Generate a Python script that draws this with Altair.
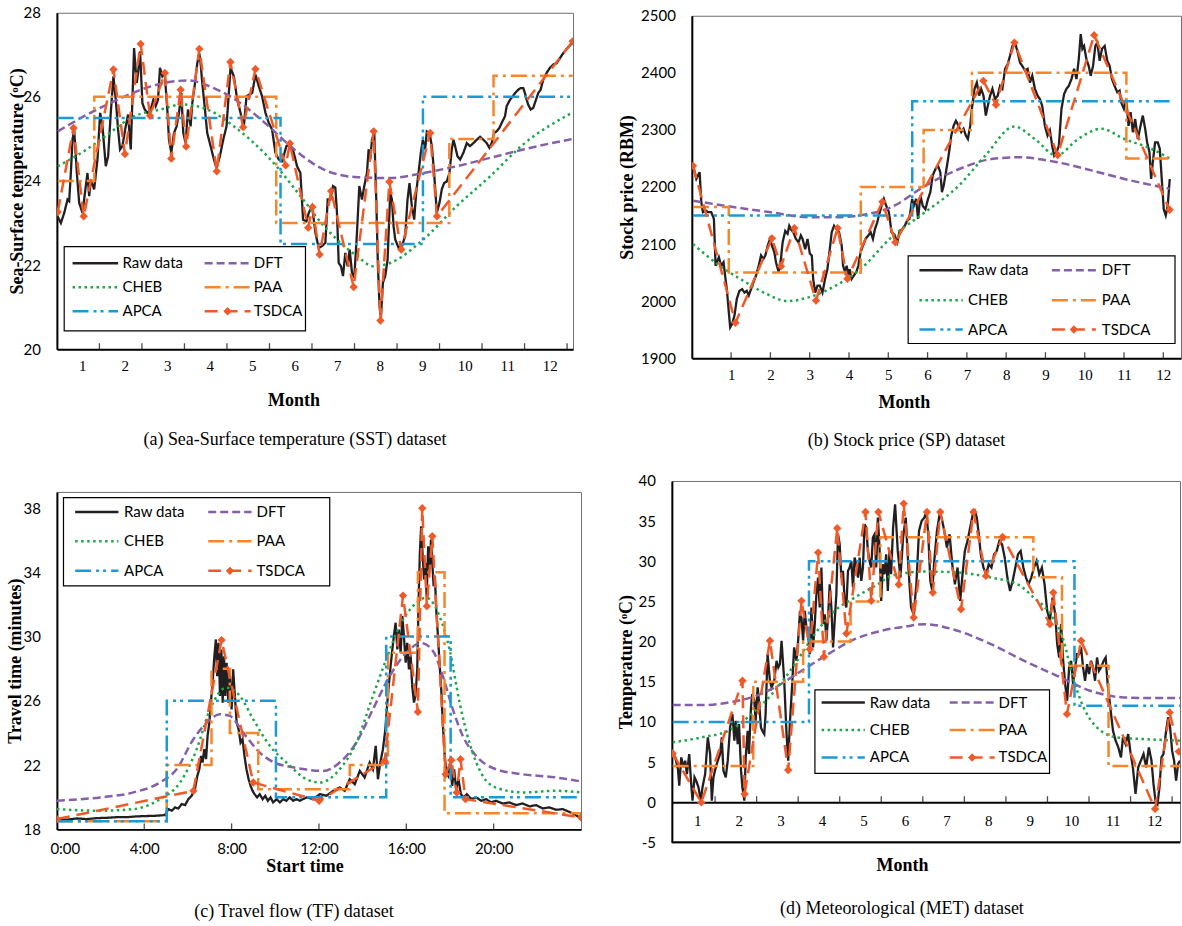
import altair as alt
import pandas as pd

# Series shared by all four panels, in legend order (row by row, two per row)
SERIES = ["Raw data", "DFT", "CHEB", "PAA", "APCA", "TSDCA"]
COLORS = ["#231f20", "#8560a8", "#1fa64b", "#f7862a", "#1c9ad6", "#ef5a28"]
DASHES = [[1, 0], [8, 4], [2.5, 3.5], [16, 5, 3, 5], [16, 5, 3, 4, 3, 5], [13, 7]]

SERIF = "Liberation Serif"
SANS = "Lato"

# ---------------- (a) Sea-Surface temperature, x in months ----------------
SST_RAW = [(0.515,23.16),(0.593,23.00),(0.672,23.24),(0.750,23.56),(0.789,23.52),(0.828,24.19),(0.867,24.98),(0.906,25.22),(0.969,24.19),(1.024,23.48),(1.102,23.24),(1.180,23.88),(1.219,24.19),(1.259,23.64),(1.298,24.03),(1.376,23.80),(1.454,24.51),(1.517,25.62),(1.572,25.30),(1.650,24.35),(1.705,24.59),(1.767,25.62),(1.830,26.49),(1.885,25.93),(1.939,25.22),(1.986,24.75),(2.041,24.83),(2.119,25.30),(2.174,25.58),(2.237,24.75),(2.276,25.93),(2.315,27.16),(2.377,26.33),(2.409,26.57),(2.456,27.08),(2.511,25.85),(2.565,25.70),(2.628,25.62),(2.706,25.70),(2.769,25.93),(2.824,25.78),(2.878,25.93),(2.925,26.69),(2.980,26.49),(3.035,26.57),(3.097,25.70),(3.136,24.98),(3.191,24.67),(3.254,25.14),(3.316,25.30),(3.371,25.62),(3.426,26.09),(3.473,25.14),(3.528,24.90),(3.583,25.70),(3.645,25.30),(3.684,25.85),(3.739,26.25),(3.802,26.80),(3.849,27.04),(3.880,26.80),(3.919,26.33),(3.974,25.78),(4.036,25.14),(4.115,24.83),(4.193,24.51),(4.255,24.31),(4.334,24.59),(4.412,24.98),(4.490,25.30),(4.584,26.69),(4.662,26.49),(4.741,25.93),(4.819,25.62),(4.897,25.30),(4.960,26.01),(5.014,26.05),(5.093,26.09),(5.171,26.53),(5.249,26.25),(5.327,26.01),(5.406,25.62),(5.484,25.38),(5.562,25.22),(5.640,24.67),(5.719,24.51),(5.797,24.47),(5.899,24.83),(5.977,24.87),(6.071,24.67),(6.149,24.35),(6.227,24.19),(6.290,23.08),(6.369,23.04),(6.423,23.24),(6.502,23.40),(6.580,22.77),(6.658,22.41),(6.736,22.45),(6.815,22.53),(6.869,23.56),(6.932,23.56),(6.995,23.88),(7.049,23.84),(7.088,23.24),(7.128,22.05),(7.182,21.97),(7.229,21.74),(7.284,22.29),(7.339,21.97),(7.386,22.37),(7.441,21.82),(7.495,21.70),(7.558,22.77),(7.613,23.88),(7.675,23.56),(7.730,23.88),(7.793,24.19),(7.832,24.75),(7.871,24.51),(7.910,24.98),(7.965,25.14),(8.012,23.56),(8.051,21.97),(8.090,21.02),(8.121,20.75),(8.168,21.58),(8.223,21.74),(8.278,22.13),(8.340,23.72),(8.380,23.56),(8.419,22.92),(8.458,22.61),(8.536,22.41),(8.614,22.45),(8.692,22.69),(8.747,23.56),(8.794,23.95),(8.849,23.40),(8.904,23.08),(8.951,23.72),(9.005,24.19),(9.060,24.67),(9.107,24.98),(9.162,24.75),(9.201,25.18),(9.264,25.14),(9.319,24.83),(9.373,24.19),(9.436,23.24),(9.499,23.48),(9.553,23.80),(9.608,23.95),(9.671,23.99),(9.733,24.19),(9.788,24.75),(9.827,24.98),(9.866,24.83),(9.921,24.59),(9.984,24.51),(10.062,24.67),(10.140,24.90),(10.218,24.83),(10.297,24.90),(10.375,24.98),(10.453,25.05),(10.531,24.98),(10.610,24.90),(10.672,24.79),(10.727,24.90),(10.782,25.14),(10.844,25.18),(10.907,25.26),(10.962,25.38),(11.040,25.54),(11.079,25.78),(11.157,25.93),(11.220,26.01),(11.275,26.09),(11.353,26.17),(11.408,26.21),(11.470,26.21),(11.509,26.09),(11.549,25.93),(11.588,25.81),(11.643,25.70),(11.705,25.74),(11.768,25.93),(11.822,26.09),(11.877,26.17),(11.940,26.41),(12.018,26.57),(12.096,26.69),(12.175,26.77),(12.253,26.80),(12.331,26.92),(12.409,27.04),(12.488,27.14),(12.566,27.22),(12.628,27.30)]
SST_DFT = [(0.52,25.18),(1.14,25.54),(1.92,25.93),(2.71,26.25),(3.57,26.39),(4.19,26.21),(4.58,26.01),(5.44,25.34),(5.99,24.83),(6.78,24.27),(7.56,24.09),(8.34,24.07),(9.12,24.19),(9.90,24.35),(10.69,24.55),(11.47,24.75),(12.63,25.00)]
SST_CHEB = [(0.52,24.35),(1.14,24.71),(1.53,24.98),(2.32,25.54),(2.94,25.70),(3.45,25.82),(4.04,25.70),(4.66,25.30),(5.45,24.59),(6.23,23.64),(6.78,22.93),(7.56,22.21),(7.95,21.97),(8.34,22.05),(9.12,22.61),(9.90,23.40),(10.69,24.11),(11.47,24.87),(12.63,25.63)]
SST_PAA = [(0.52,24.0),(1.38,26.0),(5.66,23.0),(9.73,25.0),(10.77,26.5),(12.63,26.5)]
SST_APCA = [(0.52,25.5),(5.76,22.5),(9.11,26.0),(12.63,26.0)]
SST_TSDCA = [(0.52,23.26),(0.89,25.26),(1.13,23.16),(1.83,26.65),(2.10,24.64),(2.47,27.26),(2.69,25.55),(3.04,26.57),(3.19,24.53),(3.41,26.17),(3.54,24.82),(3.85,27.14),(4.26,24.23),(4.58,26.83),(4.88,25.28),(5.17,26.66),(5.88,24.37),(5.98,24.89),(6.41,22.89),(6.51,23.38),(6.68,22.25),(6.95,23.76),(7.48,21.48),(7.95,25.18),(8.11,20.68),(8.32,23.98),(8.60,22.37),(9.28,25.14),(9.44,23.16),(12.63,27.32)]

# ---------------- (b) Stock price, x in months ----------------
SP_RAW = [(0.029,2237),(0.072,2226),(0.114,2214),(0.156,2220),(0.198,2226),(0.241,2173),(0.283,2156),(0.350,2159),(0.410,2156),(0.494,2156),(0.562,2144),(0.604,2062),(0.638,2068),(0.688,2077),(0.748,2062),(0.807,2068),(0.857,2039),(0.891,2021),(0.942,1980),(0.976,1954),(1.026,1960),(1.086,1975),(1.145,2004),(1.212,2018),(1.280,2021),(1.339,2015),(1.398,2018),(1.449,2010),(1.508,2021),(1.567,2033),(1.635,2045),(1.702,2062),(1.762,2080),(1.821,2074),(1.871,2080),(1.931,2097),(1.990,2109),(2.040,2097),(2.099,2086),(2.142,2068),(2.209,2051),(2.268,2074),(2.311,2103),(2.378,2123),(2.437,2118),(2.480,2132),(2.522,2126),(2.581,2121),(2.649,2109),(2.716,2103),(2.775,2115),(2.818,2109),(2.885,2091),(2.944,2109),(3.004,2083),(3.054,2080),(3.088,2039),(3.139,2015),(3.198,2027),(3.257,2027),(3.325,2015),(3.392,2039),(3.451,2056),(3.511,2091),(3.561,2121),(3.620,2132),(3.680,2126),(3.747,2121),(3.815,2097),(3.849,2062),(3.899,2051),(3.941,2062),(3.984,2045),(4.018,2056),(4.068,2039),(4.127,2045),(4.187,2051),(4.237,2062),(4.296,2086),(4.356,2097),(4.423,2109),(4.491,2115),(4.550,2121),(4.609,2109),(4.660,2126),(4.719,2138),(4.761,2150),(4.829,2167),(4.888,2179),(4.947,2167),(5.015,2156),(5.082,2121),(5.167,2115),(5.226,2103),(5.285,2121),(5.353,2126),(5.420,2132),(5.479,2141),(5.538,2144),(5.606,2179),(5.648,2167),(5.707,2179),(5.758,2144),(5.817,2185),(5.876,2167),(5.944,2161),(6.012,2179),(6.071,2191),(6.130,2220),(6.197,2231),(6.265,2237),(6.324,2226),(6.366,2191),(6.409,2202),(6.468,2226),(6.535,2255),(6.603,2290),(6.662,2307),(6.721,2316),(6.789,2307),(6.857,2296),(6.916,2302),(6.975,2290),(7.026,2284),(7.085,2307),(7.127,2337),(7.195,2372),(7.254,2383),(7.313,2360),(7.363,2372),(7.423,2360),(7.482,2325),(7.532,2342),(7.592,2360),(7.651,2372),(7.718,2354),(7.786,2360),(7.845,2377),(7.904,2372),(7.972,2407),(8.039,2415),(8.099,2430),(8.158,2447),(8.225,2453),(8.293,2436),(8.352,2418),(8.411,2412),(8.479,2404),(8.546,2407),(8.606,2383),(8.665,2395),(8.732,2372),(8.800,2360),(8.859,2354),(8.918,2342),(8.986,2307),(9.053,2290),(9.113,2299),(9.172,2272),(9.222,2255),(9.282,2261),(9.341,2272),(9.408,2337),(9.476,2363),(9.535,2372),(9.594,2377),(9.662,2389),(9.729,2407),(9.789,2389),(9.848,2424),(9.898,2468),(9.941,2442),(9.983,2447),(10.042,2424),(10.101,2412),(10.152,2395),(10.211,2412),(10.270,2447),(10.321,2453),(10.380,2421),(10.439,2442),(10.507,2447),(10.574,2421),(10.634,2412),(10.693,2389),(10.760,2377),(10.828,2366),(10.887,2369),(10.929,2348),(10.997,2337),(11.056,2354),(11.115,2307),(11.166,2331),(11.225,2296),(11.284,2319),(11.352,2284),(11.419,2307),(11.478,2325),(11.538,2302),(11.588,2278),(11.647,2261),(11.690,2214),(11.732,2243),(11.791,2278),(11.859,2278),(11.910,2267),(11.960,2214),(12.011,2161),(12.062,2150),(12.112,2167),(12.163,2214)]
SP_DFT = [(0.03,2176),(1.13,2164),(1.97,2156),(2.99,2147),(3.66,2147),(4.34,2151),(5.06,2164),(5.94,2202),(6.79,2231),(7.63,2249),(8.31,2252),(9.32,2243),(10.17,2229),(11.01,2214),(12.16,2197)]
SP_CHEB = [(0.03,2100),(0.71,2062),(1.30,2036),(1.89,2013),(2.44,2000),(2.99,2007),(3.66,2027),(4.34,2059),(5.05,2110),(5.94,2156),(6.79,2202),(7.47,2255),(8.21,2306),(8.73,2284),(9.28,2255),(9.83,2284),(10.42,2302),(11.01,2284),(11.69,2267),(12.16,2250)]
SP_PAA = [(0.03,2165),(0.94,2050),(4.30,2200),(5.90,2300),(7.13,2400),(11.06,2250),(12.16,2250)]
SP_APCA = [(0.03,2150),(5.61,2350),(12.16,2350)]
SP_TSDCA = [(0.03,2237),(1.11,1962),(2.04,2110),(2.27,2061),(2.61,2128),(3.16,2001),(3.71,2128),(3.96,2039),(4.85,2174),(5.18,2103),(7.42,2386),(7.74,2344),(8.21,2453),(9.31,2256),(10.24,2466),(12.16,2160)]

# ---------------- (c) Travel flow, x in hours ----------------
TF_RAW = [(0.00,18.64),(0.46,18.60),(0.91,18.68),(1.37,18.64),(1.83,18.70),(2.29,18.72),(2.74,18.76),(3.20,18.76),(3.66,18.81),(4.11,18.83),(4.57,18.85),(4.95,18.89),(5.10,19.26),(5.26,19.16),(5.41,19.37),(5.56,19.30),(5.71,19.57),(5.87,19.51),(6.02,19.88),(6.17,20.09),(6.32,20.50),(6.43,21.33),(6.52,21.74),(6.60,22.57),(6.67,22.16),(6.75,22.99),(6.83,22.37),(6.90,23.82),(6.98,24.64),(7.05,25.89),(7.13,27.13),(7.21,28.78),(7.28,29.82),(7.34,27.54),(7.40,29.61),(7.47,26.30),(7.53,29.20),(7.59,25.89),(7.65,28.78),(7.71,26.30),(7.77,28.37),(7.85,25.89),(7.92,27.54),(8.00,25.47),(8.07,27.96),(8.15,26.30),(8.23,24.64),(8.32,24.23),(8.41,23.40),(8.50,23.61),(8.59,22.57),(8.68,21.74),(8.78,21.12),(8.87,20.71),(8.96,20.40),(9.05,20.19),(9.17,19.99),(9.29,20.19),(9.42,19.88),(9.54,20.09),(9.66,19.78),(9.78,19.99),(9.90,19.68),(10.06,19.88),(10.21,19.68),(10.36,19.88),(10.51,19.78),(10.66,19.99),(10.82,19.78),(10.97,19.88),(11.12,19.78),(11.43,19.99),(11.73,19.88),(12.04,20.19),(12.34,20.09),(12.65,20.40),(12.95,20.61),(13.18,20.40),(13.41,21.12),(13.64,20.81),(13.87,21.64),(14.09,21.23),(14.32,22.16),(14.47,21.74),(14.60,23.20),(14.70,21.12),(14.81,22.16),(14.93,22.99),(15.04,24.23),(15.13,25.89),(15.21,27.13),(15.28,28.16),(15.36,29.20),(15.43,30.03),(15.51,30.86),(15.59,29.20),(15.66,30.44),(15.74,28.99),(15.82,31.27),(15.89,30.03),(15.97,28.37),(16.04,29.61),(16.12,27.96),(16.20,28.78),(16.27,26.92),(16.35,25.89),(16.42,26.30),(16.50,27.96),(16.56,32.10),(16.62,35.20),(16.68,36.86),(16.75,35.00),(16.81,33.55),(16.87,34.58),(16.93,32.51),(17.00,35.62),(17.07,34.17),(17.13,36.03),(17.19,34.58),(17.25,33.13),(17.31,33.75),(17.37,31.68),(17.45,30.03),(17.52,28.37),(17.60,26.71),(17.67,24.64),(17.75,22.78),(17.83,21.54),(17.92,21.33),(18.01,22.16),(18.10,20.71),(18.19,21.74),(18.28,20.50),(18.39,21.12),(18.50,20.19),(18.62,19.99),(18.77,20.19),(18.97,19.88),(19.20,19.99),(19.43,19.78),(19.66,19.88),(19.88,19.68),(20.11,19.78),(20.42,19.61),(20.72,19.68),(21.03,19.51),(21.33,19.61),(21.64,19.43),(21.94,19.51),(22.25,19.30),(22.55,19.37),(22.86,19.22),(23.16,19.26),(23.46,19.09),(23.69,18.95),(23.92,18.74),(24.00,18.68)]
TF_DFT = [(0,19.78),(1.98,19.99),(3.5,20.3),(4.72,20.92),(5.48,21.74),(6.25,23.61),(6.86,24.64),(7.47,25.16),(7.92,25.06),(8.53,24.02),(9.29,22.78),(10.06,22.1),(10.67,21.9),(11.43,21.72),(12.19,21.64),(12.95,22.16),(13.71,23.4),(14.47,25.47),(15.24,27.54),(16.0,28.99),(16.68,29.6),(17.22,29.1),(17.67,27.54),(18.13,25.47),(18.59,23.8),(19.2,22.57),(20.11,21.74),(21.33,21.43),(22.86,21.23),(24,20.98)]
TF_CHEB = [(0,19.26),(1.98,19.16),(3.5,19.26),(4.72,19.88),(5.64,20.92),(6.4,22.99),(7.01,25.47),(7.77,26.82),(8.38,26.3),(8.99,24.85),(9.75,23.2),(10.51,22.16),(11.43,21.12),(12.04,20.92),(12.95,21.74),(13.71,23.4),(14.47,26.3),(15.08,28.58),(15.69,30.65),(16.3,31.89),(16.91,32.41),(17.52,31.27),(17.98,29.2),(18.44,25.89),(18.89,23.4),(19.5,21.33),(20.11,20.6),(21.33,20.3),(22.86,20.4),(24,20.3)]
TF_PAA = [(0,18.5),(5.03,22),(7.08,28),(7.92,24),(9.22,20.5),(13.41,22),(15.16,29),(16.53,34),(17.75,19),(24,19)]
TF_APCA = [(0,18.5),(5.03,26),(10.03,20),(15.08,30),(18.03,20),(24,20)]
TF_TSDCA = [(0,18.64),(6.25,20.4),(7.54,29.78),(8.99,20.92),(12.01,19.78),(15.01,22.26),(15.85,32.55),(16.53,25.31),(16.73,37.99),(16.94,31.89),(17.19,36.24),(17.8,21.43),(18.06,22.3),(18.31,20.29),(18.48,22.37),(18.71,19.88),(24,18.74)]

# ---------------- (d) Meteorological, x in months ----------------
MET_RAW = [(0.478,6.20),(0.542,5.58),(0.606,4.13),(0.638,2.06),(0.686,5.58),(0.742,4.34),(0.782,5.17),(0.822,3.51),(0.878,6.00),(0.925,2.27),(0.957,0.20),(1.005,3.10),(1.045,2.68),(1.101,1.85),(1.157,0.20),(1.197,1.85),(1.261,3.51),(1.325,8.07),(1.381,6.00),(1.421,0.20),(1.461,3.10),(1.517,4.34),(1.565,5.17),(1.621,6.00),(1.661,8.07),(1.701,3.93),(1.757,3.10),(1.805,5.17),(1.861,9.31),(1.917,10.97),(1.965,7.66),(1.997,10.14),(2.045,7.24),(2.077,9.73),(2.125,3.93),(2.157,1.85),(2.205,0.20),(2.237,5.58),(2.285,8.90),(2.316,6.00),(2.364,11.80),(2.396,13.46),(2.444,12.63),(2.476,10.14),(2.524,14.29),(2.556,12.63),(2.604,9.31),(2.636,8.90),(2.684,8.49),(2.716,10.97),(2.764,18.43),(2.820,15.12),(2.860,14.29),(2.924,15.12),(2.980,17.61),(3.020,16.78),(3.060,17.19),(3.100,20.10),(3.164,15.12),(3.220,8.49),(3.260,5.17),(3.299,9.73),(3.356,14.70),(3.403,19.27),(3.459,17.61),(3.499,20.10),(3.539,23.41),(3.579,23.00),(3.619,20.10),(3.659,23.83),(3.699,21.75),(3.739,20.92),(3.779,18.43),(3.819,24.24),(3.859,19.27),(3.899,22.17),(3.939,25.90),(3.979,27.97),(4.019,24.24),(4.059,29.22),(4.099,22.17),(4.139,23.41),(4.179,20.10),(4.219,23.00),(4.259,27.14),(4.299,24.24),(4.339,19.27),(4.379,22.58),(4.419,25.90),(4.459,33.36),(4.499,32.12),(4.539,27.97),(4.579,28.80),(4.619,25.07),(4.659,24.24),(4.699,28.80),(4.739,29.22),(4.779,30.04),(4.819,26.73),(4.859,30.46),(4.899,29.63),(4.939,27.97),(4.979,30.46),(5.019,27.56),(5.059,29.22),(5.098,34.60),(5.138,34.19),(5.178,31.29),(5.218,30.04),(5.258,29.22),(5.298,32.95),(5.338,33.36),(5.378,29.22),(5.418,35.44),(5.458,31.70),(5.498,25.07),(5.538,29.63),(5.578,28.39),(5.618,30.87),(5.658,26.31),(5.698,31.29),(5.737,28.39),(5.785,34.19),(5.833,37.09),(5.897,31.29),(5.961,27.97),(6.025,32.95),(6.089,35.44),(6.153,29.22),(6.217,24.24),(6.281,23.41),(6.345,27.14),(6.408,33.78),(6.472,35.02),(6.536,35.44),(6.584,36.06),(6.632,33.36),(6.680,27.56),(6.728,26.31),(6.776,30.04),(6.840,33.78),(6.904,35.85),(6.952,35.44),(7.016,33.78),(7.080,31.70),(7.144,33.36),(7.208,29.63),(7.272,27.14),(7.336,29.22),(7.400,25.07),(7.448,27.97),(7.512,31.29),(7.575,32.53),(7.639,34.19),(7.703,35.85),(7.751,36.26),(7.799,35.44),(7.847,33.36),(7.895,30.87),(7.959,29.22),(8.023,28.39),(8.087,29.63),(8.151,29.22),(8.215,30.87),(8.279,31.29),(8.343,32.53),(8.407,32.12),(8.471,30.46),(8.535,27.97),(8.599,26.31),(8.663,27.56),(8.727,29.22),(8.791,30.87),(8.855,31.29),(8.919,29.22),(8.982,27.97),(9.046,27.14),(9.110,27.97),(9.174,29.22),(9.238,30.04),(9.302,28.39),(9.366,29.22),(9.430,27.14),(9.494,23.83),(9.558,22.58),(9.622,25.48),(9.686,23.41),(9.734,19.68),(9.782,18.02),(9.830,22.17),(9.878,17.61),(9.926,14.70),(9.974,12.63),(10.021,16.78),(10.069,17.61),(10.117,14.70),(10.165,16.78),(10.213,18.43),(10.261,18.43),(10.309,19.27),(10.357,16.78),(10.405,15.12),(10.453,17.19),(10.501,15.95),(10.549,17.61),(10.597,16.78),(10.645,15.12),(10.693,18.02),(10.741,16.36),(10.789,16.78),(10.853,17.61),(10.901,18.02),(10.949,14.70),(11.013,11.80),(11.077,8.90),(11.141,7.66),(11.205,6.83),(11.269,5.58),(11.317,8.07),(11.380,7.24),(11.444,8.49),(11.492,6.41),(11.556,4.34),(11.620,1.02),(11.684,4.34),(11.748,5.17),(11.812,6.00),(11.876,4.34),(11.940,6.83),(12.004,5.17),(12.052,2.27),(12.100,0.20),(12.148,-0.22),(12.196,1.85),(12.244,5.58),(12.292,6.00),(12.356,8.90),(12.404,10.56),(12.452,9.31),(12.500,6.41),(12.548,5.17),(12.596,2.68),(12.644,4.76),(12.692,5.17)]
MET_DFT = [(0.48,12.09),(1.18,12.09),(1.82,12.42),(2.38,13.05),(2.94,14.29),(3.58,16.36),(4.22,18.43),(4.86,20.3),(5.50,21.34),(6.10,21.9),(6.54,22.17),(7.34,21.34),(8.14,19.68),(8.94,17.61),(9.73,15.74),(10.53,13.88),(11.33,13.05),(12.13,12.96),(12.69,12.96)]
MET_CHEB = [(0.48,7.45),(1.18,8.07),(1.82,8.9),(2.38,10.97),(2.94,13.88),(3.42,17.19),(3.90,20.92),(4.38,23.83),(4.86,25.48),(5.42,27.14),(5.74,28.18),(6.54,28.72),(7.34,28.6),(8.14,27.97),(8.78,27.14),(9.17,25.48),(9.57,23.41),(9.89,20.1),(10.09,15.95),(10.37,11.8),(10.69,9.31),(11.17,8.07),(11.81,7.86),(12.69,7.66)]
MET_PAA = [(0.48,4.5),(2.42,15),(3.62,20),(4.76,25),(5.48,33),(9.16,28),(9.85,17),(10.97,4.5),(12.69,4.5)]
MET_APCA = [(0.48,10),(3.76,30),(10.15,12),(12.69,12)]
MET_TSDCA = [(0.48,6.07),(1.17,-0.03),(2.16,15.12),(2.21,1.02),(2.82,20.1),(3.26,4.0),(3.58,25.07),(3.78,19.05),(3.98,31.08),(4.12,18.1),(4.44,34.11),(4.66,21.0),(5.12,36.14),(5.26,25.07),(5.43,36.14),(5.92,27.1),(6.04,37.18),(6.28,22.99),(6.60,36.14),(6.74,26.1),(6.92,36.14),(7.42,24.03),(7.72,36.14),(8.02,28.18),(8.42,33.03),(9.56,22.17),(9.64,26.1),(9.97,10.97),(10.31,20.1),(12.09,-0.84),(12.44,11.18),(12.66,6.3)]

MONTHS = list(range(1, 13))
MONTH_EDGES = [m + 0.5 for m in range(1, 13)]
HOURS = [4, 8, 12, 16, 20]

INTERP = {"PAA": "step-after", "APCA": "step-after", "DFT": "monotone", "CHEB": "monotone"}
ONE = pd.DataFrame({"k": [0]})

AXIS_STYLE = dict(domainColor="black", domainWidth=2, ticks=False, tickSize=0, grid=False,
                  labelColor="black", titleColor="black", labelOverlap=False)


def x_axis(labels_font, title, title_x, title_y, pad, **extra):
    return alt.Axis(labelFont=labels_font, labelFontSize=15, labelPadding=pad, labelBaseline="middle",
                    title=title, titleFont=SERIF, titleFontSize=18, titleFontWeight="bold",
                    titleX=title_x, titleY=title_y, titleBaseline="middle", titleAlign="center",
                    **AXIS_STYLE, **extra)


def y_axis(values, title, title_x, **extra):
    return alt.Axis(values=values, labelFont=SANS, labelFontSize=15, labelPadding=16.5,
                    title=title, titleFont=SERIF, titleFontSize=18, titleFontWeight="bold",
                    titleX=title_x, titleAngle=270, titleBaseline="middle", titleAlign="center",
                    **AXIS_STYLE, **extra)


def legend_box(box, rows, sym_x, lab_x):
    """Framed two-column key drawn inside the plot area (pixel offsets)."""
    x0, y0, x1, y1 = box
    layers = [alt.Chart(ONE).mark_rect(fill="white", stroke="black", strokeWidth=1.2)
              .encode(x=alt.value(x0), x2=alt.value(x1), y=alt.value(y0), y2=alt.value(y1))]
    for i, name in enumerate(SERIES):
        r, c = divmod(i, 2)
        layers.append(alt.Chart(ONE).mark_rule(color=COLORS[i], strokeDash=DASHES[i], strokeWidth=2.5)
                      .encode(x=alt.value(sym_x[c][0]), x2=alt.value(sym_x[c][1]), y=alt.value(rows[r])))
        layers.append(alt.Chart(ONE).mark_text(text=name, align="left", baseline="middle", font=SANS,
                                               fontSize=15, color="black")
                      .encode(x=alt.value(lab_x[c]), y=alt.value(rows[r])))
    layers.append(alt.Chart(ONE).mark_point(shape="diamond", filled=True, size=70, opacity=1,
                                            color=COLORS[-1])
                  .encode(x=alt.value((sym_x[1][0] + sym_x[1][1]) / 2), y=alt.value(rows[2])))
    return layers


def panel(data, xdomain, ydomain, xaxis, yaxis, key, tick_vals, tick_base,
          width, height, caption, caption_dx, caption_offset, base_rule=None):
    xenc = alt.X("x:Q", scale=alt.Scale(domain=xdomain, nice=False, zero=False), axis=xaxis)
    yenc = alt.Y("y:Q", scale=alt.Scale(domain=ydomain, nice=False, zero=False), axis=yaxis)
    layers = []
    for i, (name, pts) in enumerate(zip(SERIES, data)):
        df = pd.DataFrame(pts, columns=["x", "y"])
        layers.append(
            alt.Chart(df).mark_line(color=COLORS[i], strokeDash=DASHES[i],
                                    strokeWidth=2.3 if name == "Raw data" else 2.5,
                                    interpolate=INTERP.get(name, "linear"), clip=True)
            .encode(x=xenc, y=yenc))
    # diamond markers on the TSDCA polyline
    tsdca = pd.DataFrame(data[-1], columns=["x", "y"])
    layers.append(alt.Chart(tsdca).mark_point(shape="diamond", filled=True, size=70, opacity=1,
                                               color=COLORS[-1], clip=True).encode(x=xenc, y=yenc))
    # inward tick marks on the x axis
    ticks = pd.DataFrame({"x": tick_vals})
    layers.append(alt.Chart(ticks).mark_tick(orient="vertical", size=6, thickness=1.3, color="black",
                                             yOffset=-3).encode(x=xenc, y=alt.datum(tick_base)))
    if base_rule is not None:
        layers.append(alt.Chart(ONE).mark_rule(color="black", strokeWidth=2).encode(y=alt.datum(base_rule)))
    layers += legend_box(**key)
    return alt.layer(*layers).properties(
        width=width, height=height,
        title=alt.TitleParams(caption, orient="bottom", anchor="middle", frame="group", dx=caption_dx,
                              offset=caption_offset, font=SERIF, fontSize=18, fontWeight="normal",
                              color="black"))


pa = panel([SST_RAW, SST_DFT, SST_CHEB, SST_PAA, SST_APCA, SST_TSDCA],
           [0.5, 12.64], [20, 28],
           x_axis(SERIF, "Month", 237, 51.7, 16.7, values=MONTHS, format="d", labelOffset=4, labelFlush=False),
           y_axis([20, 22, 24, 26, 28], "Sea-Surface temperature (ᵒC)", -39.3),
           dict(box=(7.3, 234.3, 249, 318.7), rows=(251, 275, 299),
                sym_x=((15.7, 61.3), (148, 194)), lab_x=(65.7, 197.3)),
           MONTH_EDGES, 20,
           517, 337, "(a)  Sea-Surface temperature (SST) dataset", -20, 21)

pb = panel([SP_RAW, SP_DFT, SP_CHEB, SP_PAA, SP_APCA, SP_TSDCA],
           [0.0, 12.45], [1900, 2500],
           x_axis(SERIF, "Month", 212.4, 44, 16.7, values=MONTHS, format="d", labelFlush=False),
           y_axis(list(range(1900, 2501, 100)), "Stock price (RBM)", -64.3, format="d"),
           dict(box=(216.7, 240.6, 484, 328.3), rows=(255, 285, 314.3),
                sym_x=((228, 271.4), (360.7, 404.7)), lab_x=(276.7, 410.7)),
           MONTHS, 1900,
           490, 343, "(b)  Stock price (SP) dataset", -30, 21)

pc = panel([TF_RAW, TF_DFT, TF_CHEB, TF_PAA, TF_APCA, TF_TSDCA],
           [0, 24], [18, 39],
           x_axis(SANS, "Start time", 248, 37.3, 19, values=[0, 4, 8, 12, 16, 20],
                  labelExpr="datum.value + ':00'", labelFlush=True, labelFlushOffset=7),
           y_axis([18, 22, 26, 30, 34, 38], "Travel time (minutes)", -41),
           dict(box=(6.6, 5.6, 273.3, 94), rows=(20, 49.5, 79),
                sym_x=((18.3, 61.6), (151.6, 195)), lab_x=(67.3, 200)),
           HOURS, 18,
           525, 338, "(c)  Travel flow (TF) dataset", -25, 27)

pd_ = panel([MET_RAW, MET_DFT, MET_CHEB, MET_PAA, MET_APCA, MET_TSDCA],
            [0.46, 12.69], [-5, 40],
            x_axis(SERIF, "Month", 230.5, 63.3, 18.3, values=MONTHS, format="d", labelOffset=3,
                   labelFlush=False, offset=-40.2),
            y_axis(list(range(-5, 41, 5)), "Temperature (ᵒC)", -45, labelExpr="'' + datum.value"),
            dict(box=(143.3, 209.3, 378.3, 293), rows=(222, 249.5, 277),
                 sym_x=((150, 193.3), (278.3, 323.3)), lab_x=(198.3, 327.3)),
            MONTH_EDGES, 0,
            509, 362, "(d)  Meteorological (MET) dataset", -24, 26, base_rule=-5)

# Invisible 1-px cell, used to nudge the right-hand panels: (b) a little to the
# right of (d), and the whole right column a few pixels lower than the left one.
spacer = (alt.Chart(ONE).mark_rule(strokeOpacity=0)
          .encode(x=alt.value(0), x2=alt.value(0), y=alt.value(0))
          .properties(width=1, height=1, view=alt.ViewBackground(strokeOpacity=0)))

row_b = alt.hconcat(spacer, pb, spacing=-55)
col1 = alt.vconcat(pa, pc, spacing=41)
col2 = alt.vconcat(spacer, alt.vconcat(row_b, pd_, spacing=22), spacing=-6)
chart = (alt.hconcat(col1, col2, spacing=35)
         .properties(padding={"left": 6, "top": 4, "right": 0, "bottom": 0}, background="white")
         .configure_view(stroke="#6f6f6f", strokeWidth=1))

chart.save("out.html", embed_options={"renderer": "svg", "actions": False})
